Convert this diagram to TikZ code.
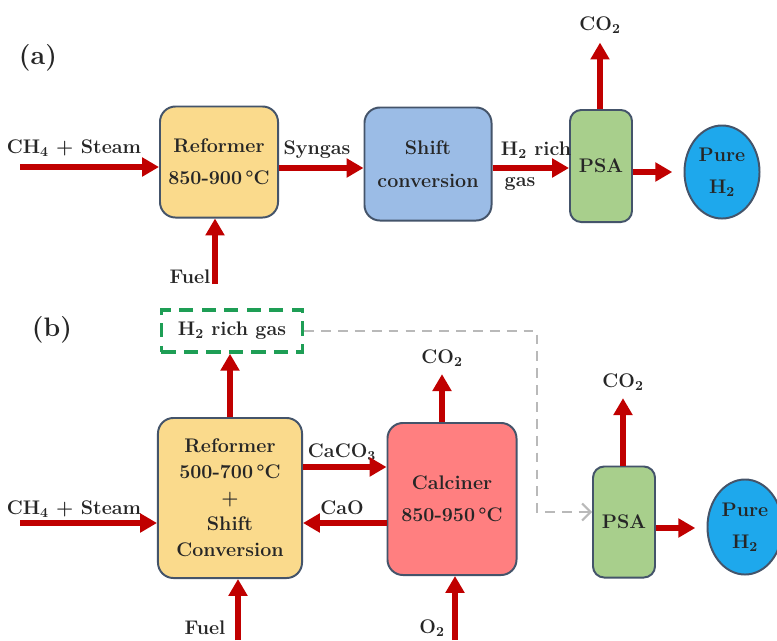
\documentclass[tikz,border=0pt]{standalone}
\usepackage{xcolor}
\usepackage{tikz}
\usetikzlibrary{arrows.meta,shapes.geometric}

\definecolor{flowred}{HTML}{C00000}
\definecolor{edgeslate}{HTML}{44546A}
\definecolor{textdark}{HTML}{262626}
\definecolor{reformyellow}{HTML}{FADA8C}
\definecolor{shiftblue}{HTML}{9BBCE6}
\definecolor{psagreen}{HTML}{A8CF8C}
\definecolor{calcred}{HTML}{FF7F80}
\definecolor{h2blue}{HTML}{1EA8EC}
\definecolor{dashgreen}{HTML}{1E9E55}

\begin{document}
\begin{tikzpicture}[x=0.025cm, y=-0.025cm,
    every node/.style={font=\fontsize{14}{17}\selectfont\bfseries, text=textdark},
    unit/.style={draw=edgeslate, line width=1.4pt, rounded corners=11pt, align=center, inner sep=2pt},
    product/.style={ellipse, draw=edgeslate, line width=1.4pt, fill=h2blue, align=center, inner sep=0pt},
    flow/.style={draw=flowred, line width=4pt, -{Triangle[length=12pt,width=13pt]}},
    recycle/.style={draw=gray!55, line width=1.5pt, dash pattern=on 7pt off 5pt, -{Straight Barb[length=6pt,width=12pt]}},
    tag/.style={font=\fontsize{19}{21}\selectfont\bfseries}]
    \fill[white] (0,0) rectangle (777,640);
    \useasboundingbox (0,0) rectangle (777,640);
    % (a) conventional route
    \node[tag] (taga) at (38,58) {(a)};
    \node[unit, fill=reformyellow, minimum width=2.95cm, minimum height=2.775cm] (refa) at (219,162) {Reformer\\[6pt]850-900\,\textdegree C};
    \node[unit, fill=shiftblue, minimum width=3.175cm, minimum height=2.825cm] (shift) at (428,164) {Shift\\[6pt]conversion};
    \node[unit, fill=psagreen, rounded corners=8pt, minimum width=1.55cm, minimum height=2.8cm] (psaa) at (601,166) {PSA};
    \node[product, minimum width=1.875cm, minimum height=2.325cm] (purea) at (722,172) {Pure\\[6pt]H\textsubscript{2}};
    % streams (a)
    \node (ina) at (74,148) {CH\textsubscript{4} + Steam};
    \coordinate (ina0) at (20,167);
    \draw[flow] (ina0) -- (ina0 -| refa.west);
    \node (syn) at (317,150) {Syngas};
    \draw[flow] (refa.east |- 0,168) -- (shift.west |- 0,168);
    \node (h2rich) at (536,150) {H\textsubscript{2} rich};
    \node (h2gas) at (520,184) {gas};
    \draw[flow] (shift.east |- 0,168) -- (psaa.west |- 0,168);
    \node (co2a) at (600,25) {CO\textsubscript{2}};
    \draw[flow, shorten >=3pt] (co2a.south |- psaa.north) -- (co2a.south);
    \draw[flow, shorten >=8pt] (psaa.east |- 0,172) -- (purea.west |- 0,172);
    \node (fuela) at (190,277) {Fuel};
    \coordinate (fuela0) at (215,284);
    \draw[flow] (fuela0) -- (fuela0 |- refa.south);
    % (b) sorption enhanced route
    \node[tag] (tagb) at (52,330) {(b)};
    \node[draw=dashgreen, line width=2.5pt, dash pattern=on 10pt off 6pt, minimum width=3.525cm, minimum height=1.05cm] (h2out) at (232,331) {H\textsubscript{2} rich gas};
    \node[unit, fill=reformyellow, minimum width=3.6cm, minimum height=4cm, font=\fontsize{14}{18.5}\selectfont\bfseries] (refb) at (230,498) {Reformer\\500-700\,\textdegree C\\+\\Shift\\Conversion};
    \node[unit, fill=calcred, minimum width=3.225cm, minimum height=3.8cm] (calc) at (452,499) {Calciner\\[6pt]850-950\,\textdegree C};
    \node[unit, fill=psagreen, rounded corners=8pt, minimum width=1.55cm, minimum height=2.775cm] (psab) at (624,522) {PSA};
    \node[product, minimum width=1.875cm, minimum height=2.375cm] (pureb) at (745,527) {Pure\\[6pt]H\textsubscript{2}};
    % streams (b)
    \draw[flow] (refb.north) -- (refb.north |- h2out.south);
    \node (caco3) at (342,452) {CaCO\textsubscript{3}};
    \draw[flow] (refb.east |- 0,467) -- (calc.west |- 0,467);
    \node (cao) at (342,508) {CaO};
    \draw[flow] (calc.west |- 0,523) -- (refb.east |- 0,523);
    \node (inb) at (74,509) {CH\textsubscript{4} + Steam};
    \coordinate (inb0) at (20,523);
    \draw[flow] (inb0) -- (inb0 -| refb.west);
    \node (fuelb) at (205,628) {Fuel};
    \coordinate (fuelb0) at (238,640);
    \draw[flow] (fuelb0) -- (fuelb0 |- refb.south);
    \node (co2c) at (442,358) {CO\textsubscript{2}};
    \draw[flow, shorten >=2pt] (co2c.south |- calc.north) -- (co2c.south);
    \node (o2) at (432,628) {O\textsubscript{2}};
    \coordinate (o20) at (455,640);
    \draw[flow] (o20) -- (o20 |- calc.south);
    \node (co2b) at (623,382) {CO\textsubscript{2}};
    \draw[flow, shorten >=2pt] (co2b.south |- psab.north) -- (co2b.south);
    \draw[flow, shorten >=8pt] (psab.east |- 0,528) -- (pureb.west |- 0,528);
    % recycle of H2 rich gas to PSA
    \coordinate (turn1) at (537,331);
    \coordinate (turn2) at (537,512);
    \draw[recycle] (h2out.east) -- (turn1) -- (turn2) -- (turn2 -| psab.west);
  \end{tikzpicture}
\end{document}
